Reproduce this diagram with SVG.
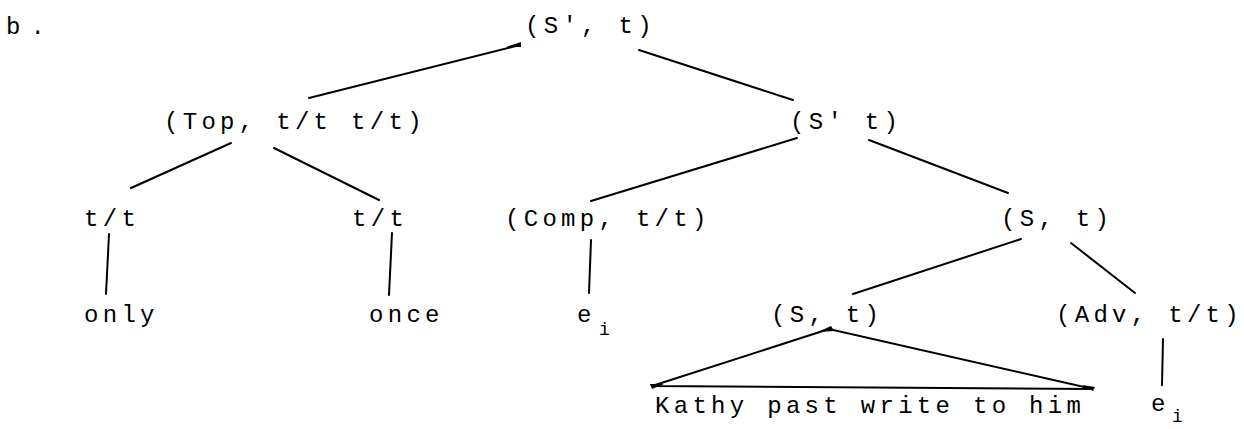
<svg xmlns="http://www.w3.org/2000/svg" width="1244" height="429" viewBox="0 0 1244 429">
<style>
  text { font-family: "Liberation Mono", "DejaVu Sans Mono", monospace; font-size: 24px; letter-spacing: 4.3px; fill: #000; }
  .sub { font-size: 18px; }
  .edge { stroke: #000; stroke-width: 2; fill: none; stroke-linecap: round; }
  .blob { fill: #000; }
</style>
<rect width="1244" height="429" fill="#fff"/>
<text id="label-b" x="6" y="34" style="letter-spacing:10px">b.</text>
<g id="node-root"><text x="525" y="33">(S', t)</text></g>
<g id="node-top"><text x="164" y="129">(Top, t/t t/t)</text></g>
<g id="node-sbar"><text x="790" y="129">(S' t)</text></g>
<g id="node-tt1"><text x="84" y="226">t/t</text></g>
<g id="node-tt2"><text x="352" y="226">t/t</text></g>
<g id="node-comp"><text x="505" y="226">(Comp, t/t)</text></g>
<g id="node-s1"><text x="1001" y="226">(S, t)</text></g>
<g id="node-only"><text x="84" y="322">only</text></g>
<g id="node-once"><text x="369" y="322">once</text></g>
<g id="node-ei1"><text x="577" y="322">e</text><text class="sub" x="599" y="335">i</text></g>
<g id="node-s2"><text x="771" y="322">(S, t)</text></g>
<g id="node-adv"><text x="1056" y="322">(Adv, t/t)</text></g>
<g id="node-kathy"><text x="655" y="413">Kathy past write to him</text></g>
<g id="node-ei2"><text x="1151" y="411">e</text><text class="sub" x="1172" y="422">i</text></g>
<g id="connectors">
  <line class="edge" x1="520" y1="45" x2="309" y2="98"/>
  <path class="blob" d="M506,47 L521,42 L521,47 Z"/>
  <line class="edge" x1="639" y1="50" x2="793" y2="100"/>
  <line class="edge" x1="231" y1="143" x2="131" y2="188"/>
  <line class="edge" x1="274" y1="148" x2="379" y2="200"/>
  <line class="edge" x1="797" y1="138" x2="591" y2="201"/>
  <line class="edge" x1="869" y1="140" x2="1008" y2="193"/>
  <line class="edge" x1="109" y1="234" x2="106" y2="294"/>
  <line class="edge" x1="392" y1="233" x2="389" y2="295"/>
  <line class="edge" x1="591" y1="240" x2="589" y2="293"/>
  <line class="edge" x1="1021" y1="239" x2="853" y2="294"/>
  <line class="edge" x1="1071" y1="243" x2="1135" y2="293"/>
  <line class="edge" x1="1163" y1="339" x2="1162" y2="385"/>
  <path class="edge" d="M829,329 L652,386 L1093,389 Z" stroke-linejoin="miter"/>
  <path class="blob" d="M818,332 L831,326 L834,331 Z"/>
  <path class="blob" d="M650,384 L664,384 L652,389 Z"/>
  <path class="blob" d="M1095,387 L1082,385 L1093,391 Z"/>
</g>
</svg>
